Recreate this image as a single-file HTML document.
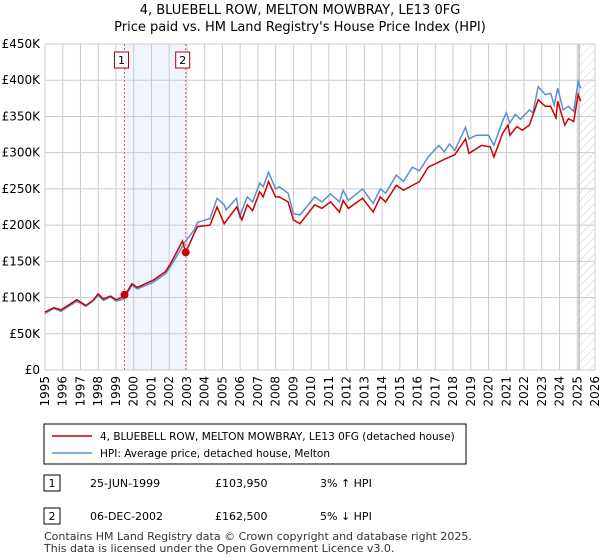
<!DOCTYPE html>
<html><head><meta charset="utf-8"><style>
body{margin:0;background:#fff;font-family:"DejaVu Sans","Liberation Sans",sans-serif;}
#wrap{position:relative;width:600px;height:560px;overflow:hidden;}
svg text{font-family:"DejaVu Sans","Liberation Sans",sans-serif;}
</style></head><body>
<div id="wrap">
<svg id="chart" width="600" height="560">
<defs><pattern id="hatch" width="6" height="6" patternUnits="userSpaceOnUse" patternTransform="rotate(45)"><line x1="0" y1="0" x2="0" y2="6" stroke="#ccc" stroke-width="1"/></pattern></defs>
<text x="300" y="14" text-anchor="middle" font-size="13">4, BLUEBELL ROW, MELTON MOWBRAY, LE13 0FG</text>
<text x="300" y="31" text-anchor="middle" font-size="13">Price paid vs. HM Land Registry's House Price Index (HPI)</text>
<g id="grid"></g><g id="marks"></g>
<rect x="44" y="424" width="422" height="40" fill="#fff" stroke="#000"/>
<line x1="52" y1="436" x2="92" y2="436" stroke="#cc0000" stroke-width="1.5"/>
<text x="100" y="440" font-size="10.5">4, BLUEBELL ROW, MELTON MOWBRAY, LE13 0FG (detached house)</text>
<line x1="52" y1="453" x2="92" y2="453" stroke="#5b8fd0" stroke-width="1.5"/>
<text x="100" y="457" font-size="10.5">HPI: Average price, detached house, Melton</text>
<g>
<rect x="44" y="475" width="16" height="16" fill="#fff" stroke="#000"/><text x="52" y="487" text-anchor="middle" font-size="11">1</text>
<text x="90" y="487" font-size="11">25-JUN-1999</text><text x="215" y="487" font-size="11">£103,950</text><text x="320" y="487" font-size="11">3% ↑ HPI</text></g>
<g>
<rect x="44" y="508" width="16" height="16" fill="#fff" stroke="#000"/><text x="52" y="520" text-anchor="middle" font-size="11">2</text>
<text x="90" y="520" font-size="11">06-DEC-2002</text><text x="215" y="520" font-size="11">£162,500</text><text x="320" y="520" font-size="11">5% ↓ HPI</text></g>
<text x="44" y="540" font-size="11" fill="#333">Contains HM Land Registry data © Crown copyright and database right 2025.</text>
<text x="44" y="552" font-size="11" fill="#333">This data is licensed under the Open Government Licence v3.0.</text>
</svg>
</div>
<script>
const yTicks=[0,50,100,150,200,250,300,350,400,450];
const yTickLabels=["£0","£50K","£100K","£150K","£200K","£250K","£300K","£350K","£400K","£450K"];
const xYears=[1995,1996,1997,1998,1999,2000,2001,2002,2003,2004,2005,2006,2007,2008,2009,2010,2011,2012,2013,2014,2015,2016,2017,2018,2019,2020,2021,2022,2023,2024,2025,2026];
const hpiT=[1995.0,1995.5,1995.9,1996.8,1997.3,1997.7,1998.0,1998.3,1998.7,1999.0,1999.45,1999.9,2000.2,2001.1,2001.8,2002.1,2002.9,2003.4,2003.6,2004.3,2004.7,2005.1,2005.2,2005.8,2005.97,2006.4,2006.7,2007.1,2007.3,2007.6,2008.0,2008.2,2008.7,2009.0,2009.37,2010.2,2010.6,2011.1,2011.6,2011.8,2012.1,2012.9,2013.5,2013.9,2014.2,2014.8,2015.2,2015.7,2016.1,2016.6,2017.2,2017.5,2017.8,2018.1,2018.7,2018.9,2019.3,2020.0,2020.3,2020.8,2021.0,2021.2,2021.5,2021.8,2022.3,2022.5,2022.8,2023.2,2023.5,2023.7,2023.9,2024.2,2024.5,2024.8,2025.05,2025.2];
const hpiV=[78,85,81,95,88,95,103,96,101,95,98,117,112,121,133,144,177,193,204,209,237,228,221,237,212,239,232,258,253,273,250,253,244,216,214,239,232,243,232,248,234,250,230,250,244,269,260,280,275,294,310,301,312,303,335,319,324,324,310,344,355,341,353,346,359,355,391,380,382,366,389,359,364,357,398,389];
const paidT=[1995.0,1995.5,1995.9,1996.8,1997.3,1997.7,1998.0,1998.3,1998.7,1999.0,1999.45,1999.9,2000.2,2001.1,2001.8,2002.1,2002.75,2002.93,2003.4,2003.6,2004.3,2004.7,2005.1,2005.8,2006.1,2006.4,2006.7,2007.1,2007.3,2007.6,2008.0,2008.2,2008.7,2009.0,2009.37,2010.2,2010.6,2011.1,2011.6,2011.8,2012.1,2012.9,2013.5,2013.9,2014.2,2014.8,2015.2,2016.1,2016.6,2017.2,2017.6,2018.1,2018.7,2018.9,2019.6,2020.1,2020.3,2020.8,2021.1,2021.2,2021.6,2021.9,2022.3,2022.8,2023.2,2023.5,2023.8,2023.9,2024.3,2024.5,2024.8,2025.05,2025.2];
const paidV=[80,86,83,97,89,96,105,98,102,97,101,119,114,124,136,148,178,162,188,198,200,225,202,225,207,228,220,246,239,260,239,239,232,207,202,228,223,232,218,234,223,237,218,239,232,255,248,260,280,287,292,297,319,299,310,308,294,327,338,324,336,331,338,373,364,364,348,371,338,347,343,380,371];
const saleT=[1999.48,2002.93];
const saleV=[103.95,162.5];
const saleLabels=["1","2"];

const X0=45,X1=595,Y0=370,Y1=44;
const xs=t=>X0+(t-1995)/(2026-1995)*(X1-X0);
const ys=v=>Y0-v/450*(Y0-Y1);
const NS="http://www.w3.org/2000/svg";
const grid=document.getElementById('grid'),marks=document.getElementById('marks');
function mk(p,tag,at){const e=document.createElementNS(NS,tag);for(const k in at)e.setAttribute(k,at[k]);p.appendChild(e);return e;}
let sh=mk(grid,'rect',{x:xs(saleT[0]),y:Y1,width:xs(saleT[1])-xs(saleT[0]),height:Y0-Y1,fill:'#f0f4fc'});


let ht=mk(grid,'rect',{x:xs(2025.1),y:Y1,width:X1-xs(2025.1),height:Y0-Y1,fill:'url(#hatch)'});


yTicks.forEach((v,i)=>{
 let l=mk(grid,'line',{x1:X0,x2:X1,y1:ys(v),y2:ys(v),stroke:'#ccc'});
 
 
 let t=mk(grid,'text',{x:X0-5,y:ys(v)+4,'text-anchor':'end','font-size':'12'});
 t.textContent=yTickLabels[i];
 
 
});
xYears.forEach(yr=>{
 let l=mk(grid,'line',{x1:xs(yr),x2:xs(yr),y1:Y1,y2:Y0,stroke:'#ccc'});
 
 
 let t=mk(grid,'text',{x:0,y:0,'text-anchor':'end','font-size':'12',transform:`translate(${xs(yr)+4},${Y0+6}) rotate(-90)`});
 t.textContent=yr;
 
 
});
let vl=mk(grid,'line',{x1:xs(2025.1),x2:xs(2025.1),y1:Y1,y2:Y0,stroke:'#999'});


saleT.forEach((t,i)=>{
 let l=mk(marks,'line',{x1:xs(t),x2:xs(t),y1:Y1,y2:Y0,stroke:'#e06060','stroke-dasharray':'2,2'});
 
 
 let r=mk(marks,'rect',{x:xs(t)-10,y:52,width:14,height:16,fill:'#fff',stroke:'#aa0000'});
 
 
 let tx=mk(marks,'text',{x:xs(t)-3,y:64,'text-anchor':'middle','font-size':'11'});
 tx.textContent=saleLabels[i];
 
 
});
function line(T,V,col,name){
 const d=T.map((t,i)=>(i?'L':'M')+xs(t).toFixed(1)+','+ys(V[i]).toFixed(1)).join('');
 let p=mk(marks,'path',{d:d,fill:'none',stroke:col,'stroke-width':'1.5'});
 
 
}
line(hpiT,hpiV,'#5b8fd0','hpi-line');
line(paidT,paidV,'#cc0000','price-paid-line');
saleT.forEach((t,i)=>{
 let c=mk(marks,'circle',{cx:xs(t),cy:ys(saleV[i]),r:4,fill:'#cc0000'});
 
 
});
</script>
</body></html>
